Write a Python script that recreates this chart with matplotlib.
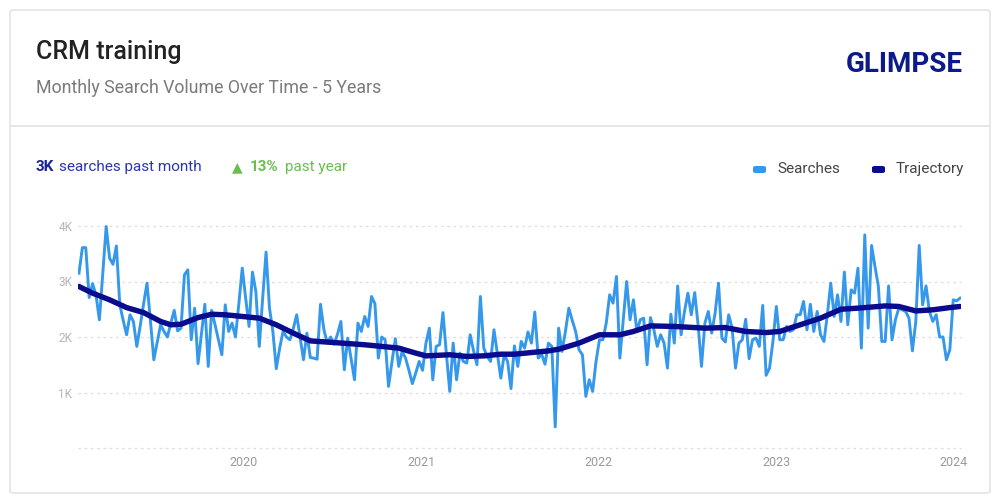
import numpy as np
import pandas as pd
import matplotlib
matplotlib.use('Agg')
import matplotlib.pyplot as plt
from matplotlib.patches import FancyBboxPatch
from matplotlib.lines import Line2D

plt.rcParams['font.family'] = ['Roboto', 'DejaVu Sans']

# weekly search volume, in thousands, starting 2019-01-27
start = '2019-01-27'
searches = [
    3.15, 3.61, 3.61, 2.71, 2.96, 2.76, 2.31, 3.15, 3.99, 3.42,
    3.31, 3.64, 2.58, 2.30, 2.04, 2.40, 2.28, 1.83, 2.20, 2.60,
    2.97, 2.30, 1.59, 1.90, 2.22, 2.10, 2.00, 2.25, 2.48, 2.11,
    2.16, 3.12, 3.21, 1.95, 2.52, 1.52, 2.05, 2.59, 1.47, 2.48,
    2.22, 1.95, 1.68, 2.58, 2.10, 2.25, 2.00, 2.60, 3.24, 2.70,
    2.19, 3.17, 2.82, 1.83, 2.70, 3.53, 2.52, 2.10, 1.43, 1.80,
    2.10, 2.00, 1.95, 2.15, 2.40, 2.00, 1.59, 2.07, 1.63, 1.62,
    1.60, 2.59, 2.13, 1.89, 2.00, 1.87, 2.05, 2.28, 1.41, 1.98,
    1.60, 1.23, 2.25, 2.10, 2.37, 2.19, 2.73, 2.60, 1.62, 2.00,
    1.95, 1.11, 1.55, 1.97, 1.47, 1.74, 1.62, 1.40, 1.16, 1.35,
    1.56, 1.40, 1.89, 2.16, 1.23, 1.83, 1.86, 2.44, 1.70, 1.02,
    1.89, 1.23, 1.71, 1.56, 1.53, 2.04, 1.75, 1.50, 2.73, 1.80,
    1.65, 1.56, 2.13, 1.70, 1.26, 1.68, 1.56, 1.07, 1.84, 1.47,
    1.92, 1.80, 2.09, 1.89, 2.45, 1.62, 1.69, 1.51, 1.89, 1.83,
    0.38, 2.16, 1.74, 2.10, 2.52, 2.30, 2.10, 1.77, 1.68, 0.93,
    1.23, 1.02, 1.56, 1.95, 1.95, 2.25, 2.76, 2.61, 3.09, 1.62,
    2.30, 3.00, 2.31, 2.67, 2.10, 2.31, 2.34, 1.50, 2.35, 2.13,
    1.83, 2.04, 1.89, 1.44, 2.41, 1.89, 2.92, 2.04, 2.46, 2.79,
    2.40, 2.80, 2.22, 1.47, 2.25, 2.46, 2.07, 2.43, 2.97, 1.98,
    1.91, 2.40, 2.16, 1.44, 1.89, 1.95, 2.32, 1.61, 1.95, 1.98,
    1.83, 2.57, 1.31, 1.44, 1.92, 2.55, 1.95, 1.95, 2.19, 2.10,
    2.13, 2.40, 2.40, 2.64, 2.13, 2.59, 2.10, 2.46, 2.04, 1.92,
    2.40, 2.97, 2.37, 2.76, 2.28, 3.17, 2.22, 2.85, 2.79, 3.24,
    1.80, 3.84, 2.16, 3.65, 3.27, 2.91, 1.92, 1.92, 2.92, 1.95,
    2.31, 2.52, 2.49, 2.46, 2.34, 1.75, 2.28, 3.65, 2.58, 2.92,
    2.46, 2.28, 2.40, 2.00, 2.00, 1.59, 1.77, 2.67, 2.65, 2.70,
]

# trajectory read at some of the weeks (week index, value in thousands)
traj_week = [0, 4, 9, 14, 19, 24, 27, 30, 35, 39, 43, 48, 53, 58, 63, 68,
             75, 84, 94, 99, 102, 109, 114, 119, 124, 128, 133, 138, 141,
             147, 153, 159, 163, 168, 175, 184, 190, 196, 202, 206, 212,
             218, 224, 229, 237, 241, 246, 251, 256, 259]
traj_value = [2.91, 2.79, 2.67, 2.53, 2.44, 2.28, 2.22, 2.23, 2.35, 2.41,
              2.40, 2.37, 2.34, 2.22, 2.07, 1.93, 1.90, 1.86, 1.80, 1.71,
              1.66, 1.68, 1.65, 1.66, 1.69, 1.69, 1.72, 1.75, 1.78, 1.89,
              2.04, 2.04, 2.10, 2.20, 2.19, 2.16, 2.17, 2.10, 2.08, 2.10,
              2.22, 2.34, 2.50, 2.52, 2.56, 2.55, 2.47, 2.49, 2.53, 2.55]

years = ['2020', '2021', '2022', '2023', '2024']
y_ticks = [0, 1, 2, 3, 4]

W, H = 1000, 503
dates = pd.date_range(start, periods=len(searches), freq='7D')
traj_dates = pd.Timestamp(start) + pd.to_timedelta(np.array(traj_week) * 7, unit='D')

fig = plt.figure(figsize=(W / 100, H / 100), dpi=100)
fig.patch.set_facecolor('white')


def fx(px):
    return px / W


def fy(py):
    return 1 - py / H


# card and divider
card = FancyBboxPatch((fx(10), fy(493)), fx(980), (483) / H,
                      boxstyle='round,pad=0,rounding_size=0.004',
                      transform=fig.transFigure, facecolor='white',
                      edgecolor='#e4e4e4', linewidth=1.2, zorder=-10)
fig.patches.append(card)
fig.add_artist(Line2D([fx(11), fx(989)], [fy(126), fy(126)],
                      transform=fig.transFigure, color='#e2e2e2', lw=1.2,
                      zorder=-5))

# header
fig.text(fx(36), fy(52), 'CRM training', fontsize=18, color='#222222',
         va='center', ha='left', fontweight='medium')
fig.text(fx(36), fy(88), 'Monthly Search Volume Over Time - 5 Years',
         fontsize=12.8, color='#7a7a7a', va='center', ha='left')
fig.text(fx(963), fy(65), 'GLIMPSE', fontsize=20, color='#0c1a8a',
         va='center', ha='right', fontweight='bold')

# stats line
fig.text(fx(36), fy(167), '3K', fontsize=11, color='#1a2494',
         va='center', ha='left', fontweight='bold')
fig.text(fx(59), fy(167), 'searches past month', fontsize=11,
         color='#2a36b0', va='center', ha='left')
fig.text(fx(232), fy(167), '\u25b2', fontsize=10, color='#6cbd4f',
         va='center', ha='left', family=['DejaVu Sans'])
fig.text(fx(250), fy(167), '13%', fontsize=11, color='#6cbd4f',
         va='center', ha='left', fontweight='bold')
fig.text(fx(285), fy(167), 'past year', fontsize=11, color='#6cbd4f',
         va='center', ha='left')

# legend
for mx, col, lab in [(753, '#3598ea', 'Searches'), (872, '#0b0b8e', 'Trajectory')]:
    pill = FancyBboxPatch((fx(mx), fy(173)), fx(13), 7 / H,
                          boxstyle='round,pad=0,rounding_size=0.003',
                          transform=fig.transFigure, facecolor=col,
                          edgecolor='none')
    fig.patches.append(pill)
    fig.text(fx(mx + 24), fy(169), lab, fontsize=11, color='#444444',
             va='center', ha='left')

# chart
ax = fig.add_axes([fx(78), fy(448), fx(883), 4.2 * 55.5 / H], zorder=5)
ax.set_facecolor('none')
ax.plot(dates, searches, color='#3598ea', lw=2.1, solid_joinstyle='round', zorder=3)
ax.plot(traj_dates, traj_value, color='#0b0b8e', lw=3.9,
        solid_joinstyle='round', solid_capstyle='round', zorder=4)

ax.set_xlim(dates[0] - pd.Timedelta(days=2), dates[-1] + pd.Timedelta(days=2))
ax.set_ylim(0, 4.2)
ax.set_yticks(y_ticks)
ax.set_yticklabels(['' if v == 0 else f'{v}K' for v in y_ticks])
ax.set_xticks([pd.Timestamp(f'{y}-01-01') for y in years])
ax.set_xticklabels(years)
ax.tick_params(axis='y', length=0, pad=4, labelsize=8.5, labelcolor='#b5b5b5')
ax.tick_params(axis='x', length=0, pad=6, labelsize=9, labelcolor='#9a9a9a')
ax.grid(axis='y', color='#dddddd', linestyle=(0, (2, 3)), lw=0.9)
for gl in ax.get_ygridlines():
    gl.set_clip_on(False)
for s in ax.spines.values():
    s.set_visible(False)

fig.savefig('out.png', dpi=100, facecolor='white')
